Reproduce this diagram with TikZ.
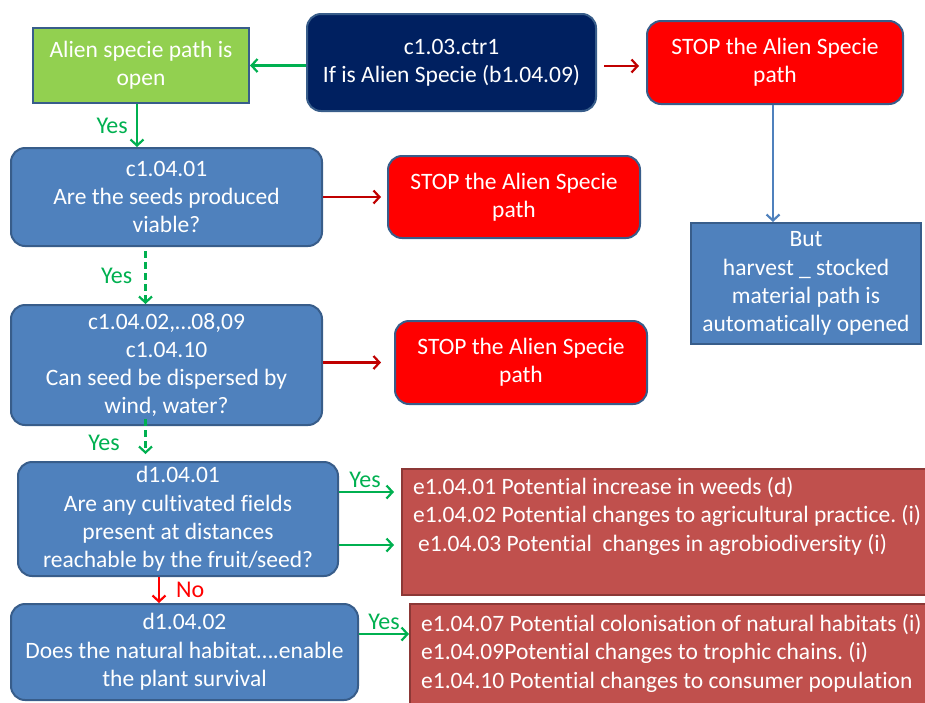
\documentclass[tikz,border=0pt]{standalone}
\usepackage{fontspec}
\setmainfont{Carlito}[Ligatures=NoCommon]
\usetikzlibrary{arrows.meta}
\frenchspacing
\definecolor{bordblue}{HTML}{385D8A}
\definecolor{boxblue}{HTML}{4F81BD}
\definecolor{navy}{HTML}{002060}
\definecolor{limegreen}{HTML}{92D050}
\definecolor{stopred}{HTML}{FF0000}
\definecolor{effred}{HTML}{C0504D}
\definecolor{effbord}{HTML}{8C3836}
\definecolor{arrgreen}{HTML}{00B050}
\definecolor{arrdark}{HTML}{C00000}
\tikzset{
  x=1pt, y=-1pt,
  base/.style={draw=bordblue, line width=2pt, text=white, align=center,
    font=\fontsize{23.5}{28.3}\selectfont, inner sep=0pt},
  qbox/.style={base, fill=boxblue, rounded corners=14pt},
  stopbox/.style={base, fill=stopred, rounded corners=14pt},
  effbox/.style={draw=effbord, line width=2pt, fill=effred, inner sep=0pt},
  efftext/.style={text=white, align=left, font=\fontsize{23.5}{28.3}\selectfont, inner sep=0pt, anchor=north west},
  tip/.style={-{Straight Barb[length=6pt,width=13pt,line width=2.2pt]}},
  garrow/.style={tip, draw=arrgreen, line width=2.4pt},
  rarrow/.style={tip, draw=arrdark, line width=2.2pt},
  lbl/.style={font=\fontsize{24}{26}\selectfont, inner sep=0pt},
}
\begin{document}
\begin{tikzpicture}
\useasboundingbox (0,0) rectangle (925,702);

\node[base, fill=limegreen, minimum width=216pt, minimum height=75pt] (green) at (141,65.5) {Alien specie path is\\open};
\node[base, fill=navy, rounded corners=14pt, minimum width=289pt, minimum height=97pt] (navy) at (451.5,62.5) {c1.03.ctr1\\If is Alien Specie (b1.04.09)};
\node[stopbox, minimum width=256pt, minimum height=83pt] (stop1) at (775,62.5) {STOP the Alien Specie\\path};
\node[base, fill=boxblue, minimum width=230pt, minimum height=121pt] (but) at (806,283.5) {But\\harvest \_ stocked\\material path is\\automatically opened};

\node[qbox, minimum width=311pt, minimum height=98pt] (c1) at (166.5,197) {c1.04.01\\Are the seeds produced\\viable?};
\node[stopbox, minimum width=252pt, minimum height=82pt] (stop2) at (514,197) {STOP the Alien Specie\\path};

\node[qbox, minimum width=311pt, minimum height=120pt] (c2) at (166.5,365) {c1.04.02,…08,09\\c1.04.10\\Can seed be dispersed by\\wind, water?};
\node[stopbox, minimum width=252pt, minimum height=83pt] (stop3) at (521,362.5) {STOP the Alien Specie\\path};

\node[qbox, minimum width=320pt, minimum height=114pt] (d1) at (178,519) {d1.04.01\\Are any cultivated fields\\present at distances\\reachable by the fruit/seed?};
\node[qbox, minimum width=347pt, minimum height=96pt] (d2) at (184.5,652) {d1.04.02\\Does the natural habitat….enable\\the plant survival};

\node[effbox, minimum width=524pt, minimum height=126pt] (e1) at (664,532) {};
\node[efftext] (e1t) at (413,477) {e1.04.01 Potential increase in weeds (d)\\e1.04.02 Potential changes to agricultural practice. (i)\\\hspace*{5pt}e1.04.03 Potential\ \ changes in agrobiodiversity (i)};
\node[effbox, minimum width=520pt, minimum height=108pt] (e2) at (670,658) {};
\node[efftext] (e2t) at (421,614) {e1.04.07 Potential colonisation of natural habitats (i)\\e1.04.09Potential changes to trophic chains. (i)\\e1.04.10 Potential changes to consumer population};

% connectors
\draw[garrow] (navy.west |- green.east) -- (green.east);
\draw[rarrow, shorten <=7pt, shorten >=7pt] (navy.east |- 0,66) -- (stop1.west |- 0,66);
\draw[tip, draw=boxblue, line width=2pt] ([xshift=-2pt]stop1.south) -- ([xshift=-2pt]stop1.south |- but.north);
\draw[garrow] ([xshift=-4pt]green.south) -- ([xshift=-4pt]green.south |- c1.north) node[lbl, text=arrgreen, midway, left=8pt] (y1) {Yes};
\draw[rarrow, shorten >=6pt] (c1.east) -- (stop2.west |- c1.east);
\draw[garrow, dashed, dash pattern=on 7pt off 4pt, shorten <=4pt] ([xshift=-21pt]c1.south) -- ([xshift=-21pt]c1.south |- c2.north) node[lbl, text=arrgreen, midway, left=12pt] (y2) {Yes};
\draw[rarrow, shorten >=13pt] (c2.east |- stop3.west) -- (stop3.west);
\draw[garrow, dashed, dash pattern=on 7pt off 4pt, shorten <=-7pt, shorten >=7pt] ([xshift=-21pt]c2.south) -- ([xshift=-21pt]c2.south |- d1.north) coordinate[midway] (m3);
\node[lbl, text=arrgreen] (y3) at (104,443) {Yes};
\draw[garrow, shorten >=7pt] (d1.east |- 0,492) -- (e1.west |- 0,492) node[lbl, text=arrgreen, pos=0.42, above=3pt] (y4) {Yes};
\draw[garrow, shorten >=7pt] (d1.east |- 0,545) -- (e1.west |- 0,545);
\draw[tip, draw=stopred, line width=2.4pt] ([xshift=-19pt]d1.south) -- ([xshift=-19pt]d1.south |- d2.north) node[lbl, text=stopred, midway, right=16pt] (no) {No};
\draw[garrow] (d2.east |- 0,634) -- (e2.west |- 0,634) node[lbl, text=arrgreen, midway, above=3pt] (y5) {Yes};
\end{tikzpicture}
\end{document}
